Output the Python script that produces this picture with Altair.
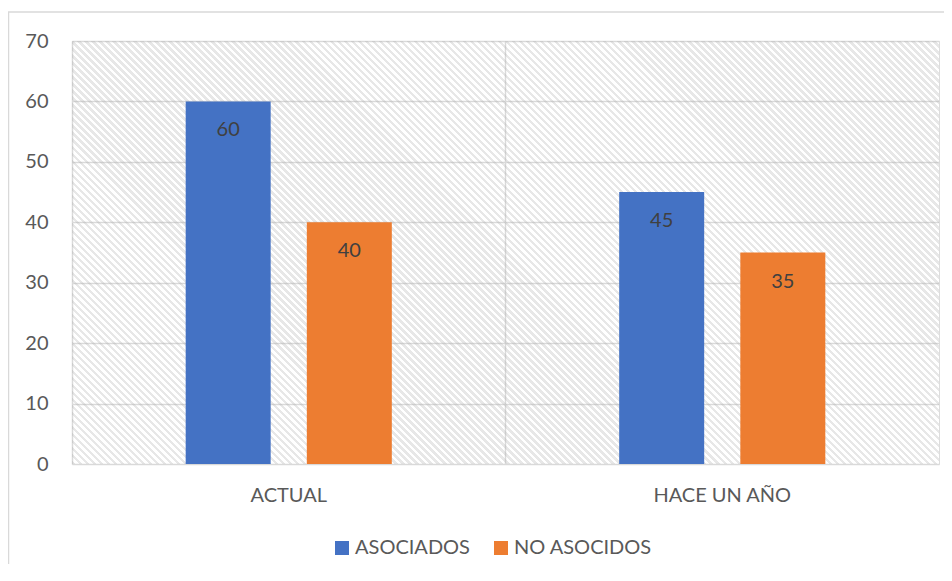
import altair as alt
import pandas as pd
import math

categories = ["ACTUAL", "ACTUAL", "HACE UN AÑO", "HACE UN AÑO"]
series = ["ASOCIADOS", "NO ASOCIDOS", "ASOCIADOS", "NO ASOCIDOS"]
values = [60, 40, 45, 35]
series_order = ["ASOCIADOS", "NO ASOCIDOS"]
series_colors = ["#4472C4", "#ED7D31"]
y_ticks = [0, 10, 20, 30, 40, 50, 60, 70]

df = pd.DataFrame({"cat": categories, "serie": series, "valor": values})

W, H = 867, 423
FONT = "Lato"
TXT = "#595959"
GRID = "#d9d9d9"
FS = 20

# diagonal hatch background via a striped linear gradient
r = H / W
k = (1 + r) / (1 + r * r)
L = (W + H) / math.sqrt(2)
period = 7 / math.sqrt(2)
N = int(round(L / period))
f = 0.5
stripe = "rgba(170,170,170,0.28)"
clear = "rgba(255,255,255,0)"
stops = []
for i in range(N):
    a = i / N
    b = (i + f) / N
    c = (i + 1) / N
    stops += [
        alt.GradientStop(offset=a, color=stripe),
        alt.GradientStop(offset=b, color=stripe),
        alt.GradientStop(offset=b, color=clear),
        alt.GradientStop(offset=c, color=clear),
    ]
hatch = alt.LinearGradient(gradient="linear", stops=stops,
                           x1=0, y1=1, x2=k, y2=1 - k * r)

xenc = alt.X("cat:N", sort=["ACTUAL", "HACE UN AÑO"], title=None,
             scale=alt.Scale(paddingInner=0, paddingOuter=0),
             axis=alt.Axis(labelAngle=0, labelFont=FONT, labelFontSize=FS,
                           labelColor=TXT, labelPadding=21, ticks=False,
                           domain=False, grid=True, bandPosition=0,
                           gridColor=GRID, gridWidth=1.5))
yenc = alt.Y("valor:Q", title=None,
             scale=alt.Scale(domain=[0, 70], nice=False),
             axis=alt.Axis(values=y_ticks, labelFont=FONT, labelFontSize=FS,
                           labelColor=TXT, labelPadding=24, ticks=False,
                           domain=False, grid=True, gridColor=GRID,
                           gridWidth=1.5))
xoff = alt.XOffset("serie:N", sort=series_order,
                   scale=alt.Scale(paddingInner=0.2975, paddingOuter=0.938))
color = alt.Color("serie:N", sort=series_order,
                  scale=alt.Scale(domain=series_order, range=series_colors),
                  legend=alt.Legend(title=None, orient="none", direction="horizontal",
                                    legendX=260, legendY=497,
                                    symbolType="square", symbolSize=196,
                                    symbolStrokeWidth=0, symbolOpacity=1,
                                    labelFont=FONT, labelFontSize=FS,
                                    labelColor=TXT, labelOffset=3,
                                    columnPadding=21))

frame = alt.Chart(alt.Data(values=[{}])).mark_rect(
    fill="transparent", stroke=GRID, strokeWidth=1.5
).encode(x=alt.value(-63.5), x2=alt.value(W + 60), y=alt.value(-29), y2=alt.value(H + 200))

bg = alt.Chart(alt.Data(values=[{}])).mark_rect(fill=hatch).encode(
    x=alt.value(0), x2=alt.value(W), y=alt.value(0), y2=alt.value(H))

base = alt.Chart(df)
bars = base.mark_bar(size=85).encode(x=xenc, y=yenc, xOffset=xoff, color=color)
labels = base.mark_text(font=FONT, fontSize=FS, color="#404040",
                        baseline="middle", dy=29).encode(
    x=xenc, y=yenc, xOffset=xoff, text=alt.Text("valor:Q"))

chart = alt.layer(frame, bg, bars, labels).properties(
    width=W, height=H,
    autosize=alt.AutoSizeParams(type="none"),
    padding={"left": 64, "top": 33, "right": 5, "bottom": 100},
).configure_view(stroke=GRID, strokeWidth=1.5).configure(background="white")

chart.save("out.html", embed_options={"renderer": "svg", "actions": False})
